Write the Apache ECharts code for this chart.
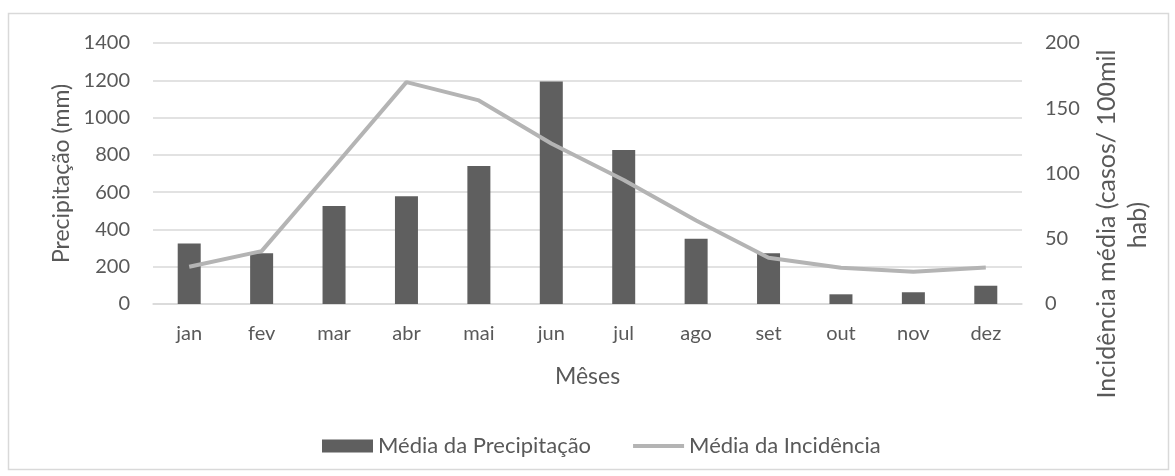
<!DOCTYPE html>
<html>
<head>
<meta charset="utf-8">
<script src="https://cdn.jsdelivr.net/npm/echarts@6/dist/echarts.min.js"></script>
<style>
  html, body { margin: 0; padding: 0; background: #fff; }
  #chart { width: 1175px; height: 476px; }
</style>
</head>
<body>
<div id="chart"></div>
<script>
// Monthly averages: rainfall (left axis) and incidence rate (right axis)
const months = ['jan', 'fev', 'mar', 'abr', 'mai', 'jun', 'jul', 'ago', 'set', 'out', 'nov', 'dez'];
const precipitacao = [325, 272, 526, 578, 740, 1193, 826, 350, 272, 52, 63, 98];
const incidencia = [28.6, 40.5, 105, 170, 156, 123, 95, 64, 35.5, 27.8, 24.8, 28];
const leftTicks = { min: 0, max: 1400, interval: 200 };
const rightTicks = { min: 0, max: 200, interval: 50 };

const FONT = 'Lato';
const TEXT = '#595959';
const GRID = '#d9d9d9';
const LINE = '#b4b4b4';

// Thick horizontal stroke for the line series' legend key (tiny end triangles keep the 0..13 box)
const lineKey = 'path://M0,0 L51,0 L51,0.01 Z M0,4.5 L51,4.5 L51,8.5 L0,8.5 Z M0,12.99 L51,12.99 L51,13 Z';

const chart = echarts.init(document.getElementById('chart'), null, { renderer: 'canvas' });

chart.setOption({
  backgroundColor: '#ffffff',
  animation: false,
  textStyle: { fontFamily: FONT, color: TEXT },
  grid: { left: 153, right: 153, top: 43, bottom: 172, containLabel: false },
  legend: {
    left: 317,
    top: 430,
    itemWidth: 51,
    itemHeight: 13,
    itemGap: 42,
    textStyle: { fontFamily: FONT, fontSize: 22, color: TEXT },
    data: [
      { name: 'Média da Precipitação', icon: 'rect' },
      { name: 'Média da Incidência', icon: lineKey, itemStyle: { color: LINE } }
    ]
  },
  xAxis: {
    type: 'category',
    data: months,
    name: 'Mêses',
    nameLocation: 'middle',
    nameGap: 61,
    nameTextStyle: { fontFamily: FONT, fontSize: 23, color: TEXT },
    axisLine: { lineStyle: { color: GRID, width: 1.5 } },
    axisTick: { show: false },
    axisLabel: { fontFamily: FONT, fontSize: 20, color: TEXT, margin: 20 }
  },
  yAxis: [
    {
      type: 'value',
      min: leftTicks.min,
      max: leftTicks.max,
      interval: leftTicks.interval,
      name: 'Precipitação (mm)',
      nameLocation: 'middle',
      nameRotate: 90,
      nameGap: 79,
      nameTextStyle: { fontFamily: FONT, fontSize: 23, color: TEXT },
      axisLine: { show: false },
      axisTick: { show: false },
      axisLabel: { fontFamily: FONT, fontSize: 20, color: TEXT, margin: 23, formatter: v => String(v) },
      splitLine: { lineStyle: { color: GRID, width: 1.5 } }
    },
    {
      type: 'value',
      min: rightTicks.min,
      max: rightTicks.max,
      interval: rightTicks.interval,
      position: 'right',
      axisLine: { show: false },
      axisTick: { show: false },
      axisLabel: { fontFamily: FONT, fontSize: 20, color: TEXT, margin: 23, formatter: v => String(v) },
      splitLine: { show: false }
    }
  ],
  graphic: [
    {
      type: 'rect',
      silent: true,
      shape: { x: 8.5, y: 13.5, width: 1160, height: 456 },
      style: { fill: 'none', stroke: GRID, lineWidth: 1.5 }
    },
    {
      type: 'text',
      silent: true,
      x: 1107,
      y: 224,
      rotation: Math.PI / 2,
      style: {
        text: 'Incidência média (casos/ 100mil',
        fontFamily: FONT, fontSize: 25, fill: TEXT,
        align: 'center', verticalAlign: 'middle'
      }
    },
    {
      type: 'text',
      silent: true,
      x: 1138,
      y: 225,
      rotation: Math.PI / 2,
      style: {
        text: 'hab)',
        fontFamily: FONT, fontSize: 25, fill: TEXT,
        align: 'center', verticalAlign: 'middle'
      }
    }
  ],
  series: [
    {
      name: 'Média da Precipitação',
      type: 'bar',
      yAxisIndex: 0,
      data: precipitacao,
      barWidth: 23,
      itemStyle: { color: '#5f5f5f' }
    },
    {
      name: 'Média da Incidência',
      type: 'line',
      yAxisIndex: 1,
      data: incidencia,
      symbol: 'none',
      lineStyle: { color: LINE, width: 4 },
      itemStyle: { color: LINE }
    }
  ]
});
</script>
</body>
</html>
